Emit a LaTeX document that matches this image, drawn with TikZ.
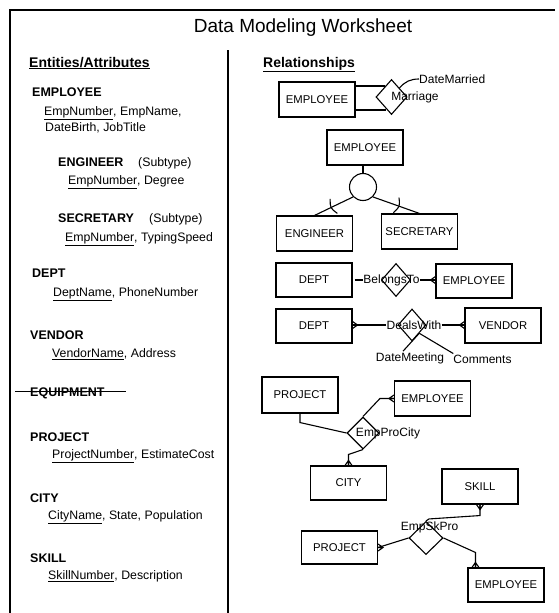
\documentclass[tikz,border=0pt]{standalone}
\usepackage{fontspec}
\setmainfont{Liberation Sans}
\usetikzlibrary{shapes.geometric,calc}
\newcommand\fs[1]{\fontsize{#1}{#1}\selectfont}
\newcommand\crowL[1]{\draw[crow] ($(#1)+(0,-3.5)$) -- ($(#1)+(-5,0)$) -- ($(#1)+(0,3.5)$) ($(#1)+(-5,0)$) -- (#1);}
\newcommand\crowR[1]{\draw[crow] ($(#1)+(0,-3.5)$) -- ($(#1)+(5,0)$) -- ($(#1)+(0,3.5)$) ($(#1)+(5,0)$) -- (#1);}
\newcommand\crowU[1]{\draw[crow] ($(#1)+(-3.5,0)$) -- ($(#1)+(0,-5)$) -- ($(#1)+(3.5,0)$) ($(#1)+(0,-5)$) -- (#1);}
\newcommand\crowD[1]{\draw[crow] ($(#1)+(-3.5,0)$) -- ($(#1)+(0,5)$) -- ($(#1)+(3.5,0)$) ($(#1)+(0,5)$) -- (#1);}
\tikzset{
  box/.style={draw, line width=1.1pt, minimum width=76pt, minimum height=35pt, inner sep=0pt, font=\fs{11.3}},
  rel/.style={draw, shape=diamond, line width=1.1pt, inner sep=0pt},
  lbl/.style={inner sep=0pt, font=\fs{12}},
  ent/.style={anchor=base west, inner sep=0pt, font=\bfseries\fs{12.5}},
  attr/.style={anchor=base west, inner sep=0pt, font=\fs{12.3}},
  head/.style={anchor=base west, inner sep=0pt, font=\bfseries\fs{14}},
  conn/.style={line width=1.1pt},
  crow/.style={line width=1.1pt},
  frame/.style={line width=1.3pt}
}
\begin{document}
\begin{tikzpicture}[x=1pt,y=-1pt]
\useasboundingbox (0,0) rectangle (558,613);
% frame
\coordinate (ftl) at (10,10);
\coordinate (ftr) at (555,10);
\coordinate (fbl) at (10,613);
\coordinate (dtop) at (228,50);
\coordinate (dbot) at (228,613);
\draw[frame] (fbl) -- (ftl) -- (ftr);
\draw[frame] (dtop) -- (dbot);
% title and headings
\node[anchor=base, inner sep=0pt, font=\fs{19}] (title) at (303,32) {Data Modeling Worksheet};
\node[head] (hl) at (29,67) {\underline{Entities/Attributes}};
\node[head] (hr) at (263,67) {\underline{Relationships}};
% left column
\node[ent] (e1) at (32,96.5) {EMPLOYEE};
\node[attr] (a1) at (44,115.3) {\underline{EmpNumber}, EmpName,};
\node[attr] (a1b) at (45,131) {DateBirth, JobTitle};
\node[ent] (e2) at (58,166) {ENGINEER};
\node[attr] (s2) at (138,166) {(Subtype)};
\node[attr] (a2) at (68,184.5) {\underline{EmpNumber}, Degree};
\node[ent] (e3) at (58,222) {SECRETARY};
\node[attr] (s3) at (149,222) {(Subtype)};
\node[attr] (a3) at (65,241) {\underline{EmpNumber}, TypingSpeed};
\node[ent] (e4) at (32,277) {DEPT};
\node[attr] (a4) at (53,296) {\underline{DeptName}, PhoneNumber};
\node[ent] (e5) at (30,339) {VENDOR};
\node[attr] (a5) at (52,357.5) {\underline{VendorName}, Address};
\node[ent] (e6) at (30,396) {EQUIPMENT};
\draw[line width=1pt] ($(e6.west)+(-15,-1)$) -- ($(e6.east)+(21,-1)$);
\node[ent] (e7) at (30,441) {PROJECT};
\node[attr] (a7) at (52,458.5) {\underline{ProjectNumber}, EstimateCost};
\node[ent] (e8) at (30,502) {CITY};
\node[attr] (a8) at (48,519.5) {\underline{CityName}, State, Population};
\node[ent] (e9) at (30,562) {SKILL};
\node[attr] (a9) at (48,579.5) {\underline{SkillNumber}, Description};
% ---- Marriage
\node[box] (emp1) at (317,99.5) {EMPLOYEE};
\node[rel, minimum width=31pt, minimum height=35pt] (marr) at (391.5,97) {};
\node[lbl] (marrt) at (415,97.5) {Marriage};
\node[lbl, anchor=west] (dm) at (419,79) {DateMarried};
\draw[conn] ([yshift=13.5pt]emp1.east) -- ([xshift=9.5pt,yshift=11pt]marr.west);
\draw[conn] ([yshift=-10.5pt]emp1.east) -- ([xshift=11pt,yshift=-13pt]marr.west);
\draw[conn] (marr.north east) to[bend left=25] (dm.west);
% ---- Supertype / subtypes
\node[box] (emp2) at (365,147.5) {EMPLOYEE};
\node[draw, circle, line width=1.1pt, minimum size=27pt, inner sep=0pt] (circ) at (363,187) {};
\node[box] (eng) at (314.5,233.5) {ENGINEER};
\node[box] (sec) at (419.5,231.5) {SECRETARY};
\draw[conn] (circ.north |- emp2.south) -- (circ.north);
\draw[conn] (circ.225) -- (eng.north);
\draw[conn] (circ.-45) -- (sec.north);
\path (circ.225) -- (eng.north) coordinate[pos=0.5] (t1);
\draw[conn] ($(t1)+(-3.6,-7.2)$) .. controls ($(t1)+(-3.6,1.8)$) .. ($(t1)+(3.6,7.2)$);
\path (circ.-45) -- (sec.north) coordinate[pos=0.5] (t2);
\draw[conn] ($(t2)+(2.8,-7.5)$) .. controls ($(t2)+(3.7,1.4)$) .. ($(t2)+(-2.8,7.5)$);
% ---- BelongsTo
\node[box, minimum height=34pt] (dept1) at (314,280) {DEPT};
\node[rel, minimum width=29pt, minimum height=33pt] (bel) at (396,280) {};
\node[lbl] (belt) at (391.5,280) {BelongsTo};
\node[box, minimum height=34pt] (emp3) at (474,281) {EMPLOYEE};
\coordinate (belend) at (emp3.west |- belt.east);
\draw[conn] ([xshift=2pt]dept1.east) -- (belt.west);
\draw[conn] (belt.east) -- (belend);
\crowL{belend}
% ---- DealsWith
\node[box, minimum height=34pt] (dept2) at (314,326) {DEPT};
\node[rel, minimum width=28pt, minimum height=32pt] (deal) at (412,325) {};
\node[lbl] (dealt) at (414,325) {DealsWith};
\node[box] (vend) at (503,325.5) {VENDOR};
\node[lbl] (dmt) at (410,358) {DateMeeting};
\node[lbl] (cmt) at (482.5,359) {Comments};
\coordinate (dealA) at (dept2.east |- dealt.west);
\coordinate (dealB) at (vend.west |- dealt.east);
\draw[conn] (dealA) -- (dealt.west);
\crowR{dealA}
\draw[conn] (dealt.east) -- (dealB);
\crowL{dealB}
\draw[conn] (deal.south east) -- ([xshift=-7pt,yshift=1pt]dmt.north);
\draw[conn] (deal.south east) -- ([yshift=1pt]cmt.north west);
% ---- EmpProCity
\node[box, minimum height=36pt] (proj1) at (300,395) {PROJECT};
\node[box] (emp4) at (432.5,398.5) {EMPLOYEE};
\node[rel, minimum width=32pt, minimum height=32pt] (epc) at (363,433) {};
\node[lbl] (epct) at (388,433) {EmpProCity};
\node[box, minimum height=34pt] (city) at (348.5,483) {CITY};
\draw[conn] (proj1.south) -- ++(0,9) -- (epc.west);
\draw[conn] (epc.north) -- ([xshift=-14pt]emp4.west) -- (emp4.west);
\crowL{emp4.west}
\draw[conn] (epc.south) -- ([yshift=11pt]city.north) -- (city.north);
\crowU{city.north}
% ---- EmpSkPro
\node[box] (skill) at (480,486.5) {SKILL};
\node[rel, minimum width=34pt, minimum height=33pt] (esp) at (426,538) {};
\node[lbl] (espt) at (429.5,527) {EmpSkPro};
\node[box, minimum height=33pt] (proj2) at (339.5,547.5) {PROJECT};
\node[box, minimum height=34pt] (emp5) at (506,585) {EMPLOYEE};
\coordinate (e5top) at ([xshift=8pt]emp5.north west);
\draw[conn] (skill.south) -- ++(0,11) -- ([xshift=3pt,yshift=2pt]esp.north) -- (esp.north);
\crowD{skill.south}
\draw[conn] (proj2.east) -- (esp.west);
\crowR{proj2.east}
\draw[conn] (esp.east) -- ([yshift=15pt]e5top) -- (e5top);
\crowU{e5top}
\end{tikzpicture}
\end{document}
